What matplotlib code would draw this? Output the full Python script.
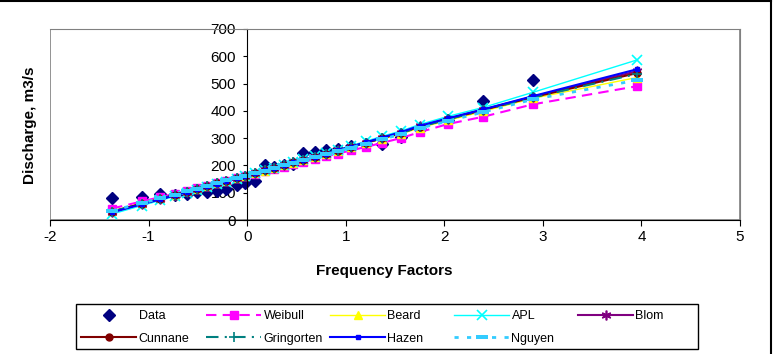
import matplotlib
matplotlib.use("Agg")
from matplotlib import pyplot as plt
from matplotlib.path import Path
from matplotlib.patches import Rectangle
from matplotlib.lines import Line2D

plt.rcParams["font.family"] = ["Liberation Sans", "DejaVu Sans"]
plt.rcParams["axes.unicode_minus"] = False

# frequency factors (shared by all series)
k = [-1.37, -1.07, -0.88, -0.73, -0.61, -0.51, -0.41, -0.31, -0.21, -0.10,
     -0.02, 0.08, 0.18, 0.27, 0.37, 0.47, 0.57, 0.69, 0.80, 0.92,
     1.05, 1.21, 1.37, 1.56, 1.75, 2.04, 2.39, 2.90, 3.95]

# observed discharge (no observation at the last factor)
data = [80, 86, 95, 92, 96, 101, 104, 106, 115, 128,
        136, 142, 200, 193, 200, 207, 246, 250, 258, 262,
        270, 278, 280, 305, 335, 368, 437, 512]

weibull = [42, 68, 84, 97, 107, 116, 125, 134, 143, 153,
           160, 169, 178, 186, 195, 204, 213, 223, 233, 243,
           255, 268, 283, 300, 322, 352, 378, 424, 490]
beard = [33, 62, 79, 93, 105, 115, 125, 135, 144, 154,
         162, 172, 181, 190, 200, 210, 220, 231, 242, 253,
         266, 281, 297, 315, 338, 365, 398, 446, 522]
apl = [22, 53, 72, 87, 100, 110, 121, 131, 141, 152,
       161, 171, 182, 191, 201, 212, 222, 234, 245, 258,
       272, 289, 307, 326, 350, 380, 412, 468, 586]
blom = [30, 59, 77, 92, 104, 114, 124, 134, 144, 154,
        162, 172, 182, 191, 201, 211, 221, 232, 243, 255,
        268, 284, 301, 320, 343, 371, 404, 452, 545]
cunnane = [30, 60, 77, 92, 104, 114, 124, 134, 144, 154,
           162, 172, 182, 191, 201, 211, 221, 232, 243, 254,
           267, 283, 300, 319, 342, 370, 403, 450, 538]
gringorten = [31, 60, 78, 92, 104, 114, 124, 134, 144, 154,
              162, 172, 182, 191, 201, 211, 221, 232, 243, 254,
              267, 283, 300, 318, 341, 369, 402, 449, 535]
hazen = [28, 58, 76, 91, 103, 113, 123, 133, 143, 154,
         162, 172, 182, 191, 201, 211, 221, 232, 243, 255,
         269, 285, 302, 322, 345, 373, 405, 454, 552]
nguyen = [34, 62, 79, 93, 105, 115, 125, 135, 145, 154,
          162, 172, 181, 190, 200, 210, 220, 230, 241, 252,
          265, 280, 296, 314, 336, 363, 395, 442, 512]

# wide flat bar, like the Excel "dash" marker
bar = Path([(-1, -0.35), (1, -0.35), (1, 0.35), (-1, 0.35), (-1, -0.35)],
           [Path.MOVETO, Path.LINETO, Path.LINETO, Path.LINETO, Path.CLOSEPOLY])

fig = plt.figure(figsize=(7.76, 3.54), dpi=100)
ax = fig.add_axes([50 / 776, 1 - 220 / 354, 690 / 776, 191 / 354])

h_data, = ax.plot(k[:len(data)], data, ls="none", marker="D", ms=6, color="#000080", label="Data")
h_wei, = ax.plot(k, weibull, ls=(0, (5, 3)), lw=1.5, color="#FF00FF", marker="s", ms=6, label="Weibull")
h_bea, = ax.plot(k, beard, ls="-", lw=1, color="#FFFF00", marker="^", ms=6, label="Beard")
h_apl, = ax.plot(k, apl, ls="-", lw=1, color="#00FFFF", marker="x", ms=7, mew=1.2, label="APL")
h_blo, = ax.plot(k, blom, ls="-", lw=1.5, color="#800080", marker=(6, 2, 0), ms=7, mew=1.2, label="Blom")
h_cun, = ax.plot(k, cunnane, ls="-", lw=1.5, color="#800000", marker="o", ms=5, label="Cunnane")
h_gri, = ax.plot(k, gringorten, ls=(0, (6, 3, 1, 3)), lw=1.5, color="#008080", marker="+", ms=7, mew=1.2, label="Gringorten")
h_haz, = ax.plot(k, hazen, ls="-", lw=1.5, color="#0000FF", marker="s", ms=2.5, label="Hazen")
h_ngu, = ax.plot(k, nguyen, ls=(0, (1.5, 3)), lw=2, color="#33CCFF", marker=bar, ms=8, mew=0, label="Nguyen")

ax.set_xlim(-2, 5)
ax.set_ylim(0, 700)
ax.set_xticks(range(-2, 6))
ax.set_yticks(range(0, 701, 100))

# plot-area frame in grey, axes crossing at zero in black
for side in ["top", "right"]:
    ax.spines[side].set_color("#808080")
ax.spines["bottom"].set_color("black")
ax.spines["left"].set_position(("data", 0))
ax.spines["left"].set_color("black")
ax.add_patch(Rectangle((0, 0), 1, 1, transform=ax.transAxes, fill=False,
                       edgecolor="#808080", lw=1.2, zorder=0))
ax.tick_params(axis="x", direction="out", length=4, labelsize=11, pad=3)
ax.tick_params(axis="y", direction="out", length=3, labelsize=11, pad=5)
ax.tick_params(top=False, right=False)

fig.text(30 / 776, 1 - 125 / 354, "Discharge, m3/s", rotation=90, ha="center", va="center",
         fontsize=11, fontweight="bold")
fig.text(384 / 776, 1 - 271 / 354, "Frequency Factors", ha="center", va="center",
         fontsize=11, fontweight="bold")

# legend: one column at a time so the columns sit where Excel put them
columns = [[h_data, h_cun], [h_wei, h_gri], [h_bea, h_haz], [h_apl, h_ngu], [h_blo]]
col_x = [81, 206, 330, 454, 578]
for hs, cx in zip(columns, col_x):
    leg = fig.legend(handles=hs, loc="upper left", bbox_to_anchor=(cx / 776, 1 - 310 / 354),
                     fontsize=9, frameon=False, handlelength=4.4, handletextpad=0.2,
                     labelspacing=0.85, borderpad=0, borderaxespad=0, markerscale=1.0)
fig.patches.append(Rectangle((76 / 776, 1 - 349 / 354), 622 / 776, 45 / 354,
                             transform=fig.transFigure, fill=False, edgecolor="black", lw=1))

# chart border (top and right edges visible in the original crop)
fig.add_artist(Line2D([0, 771 / 776], [1 - 0.5 / 354, 1 - 0.5 / 354], color="black", lw=1.5))
fig.add_artist(Line2D([771 / 776, 771 / 776], [0, 1], color="black", lw=1.5))

fig.savefig("out.png", dpi=100)
